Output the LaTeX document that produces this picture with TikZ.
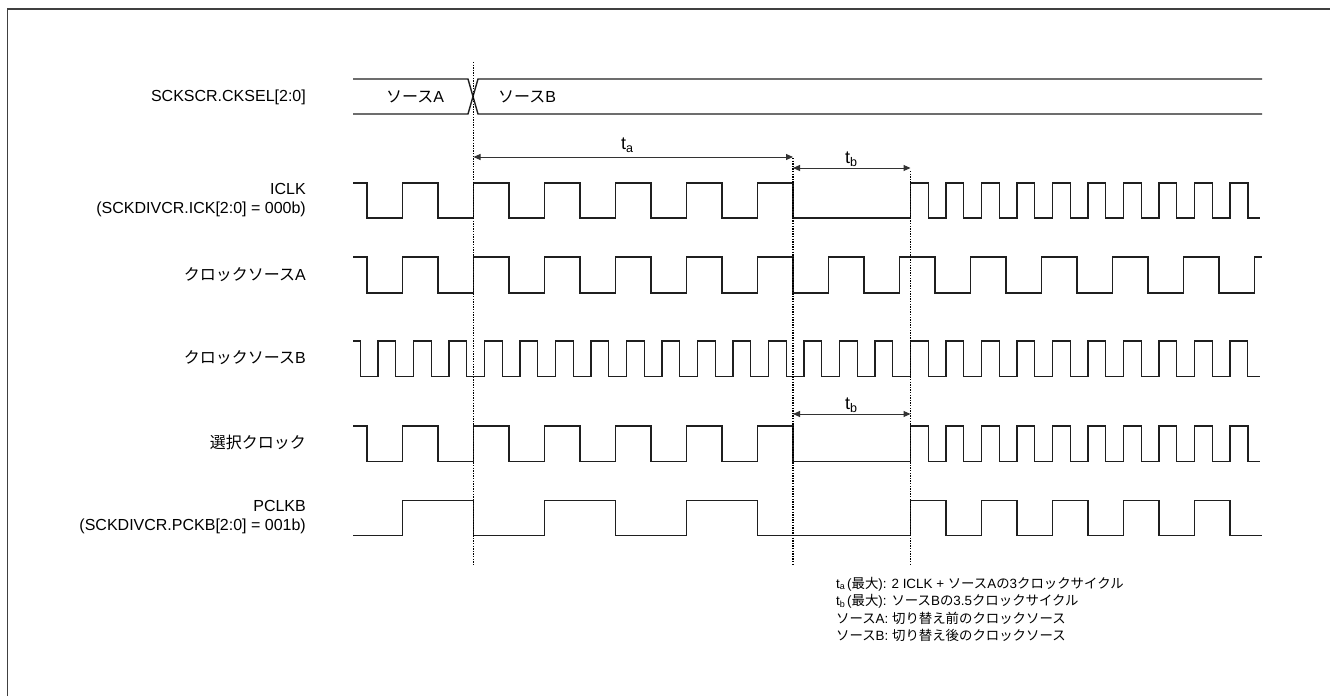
\documentclass[tikz,border=0pt]{standalone}
\usepackage{fontspec}
\setmainfont{Liberation Sans}
\newfontfamily\jp{Noto Sans CJK JP}
\usetikzlibrary{arrows.meta}
\newcommand\J[1]{{\jp #1}}
\newcommand\tsub[1]{t\raisebox{-0.3ex}{\fontsize{12.5}{12.5}\selectfont #1}}
\newcommand\nsub[1]{t\raisebox{-0.25ex}{\fontsize{9}{9}\selectfont #1}}
\begin{document}
\begin{tikzpicture}[x=1pt,y=-1pt,
  wave/.style={line width=1.4pt,draw=black!88,line join=miter},
  dotline/.style={line width=1.2pt,draw=black,dash pattern=on 1.3pt off 1.3pt},
  dim/.style={line width=1pt,draw=black!80,{Triangle[length=7pt,width=6pt]}-{Triangle[length=7pt,width=6pt]}},
  lbl/.style={anchor=east,align=right,inner sep=0pt,font=\fontsize{16}{18.5}\selectfont},
  bustxt/.style={inner sep=0pt,font=\fontsize{16}{18}\selectfont},
  tlbl/.style={inner sep=0pt,font=\fontsize{18}{20}\selectfont},
  note/.style={anchor=west,align=left,inner sep=0pt,font=\fontsize{13.4}{17.6}\selectfont}]
\useasboundingbox (0,0) rectangle (1330,696);
\fill[white] (0,0) rectangle (1330,696);
\draw[line width=1.5pt,black!75] (7.5,696) -- (7.5,9) -- (1330,9);

% signal labels
\node[lbl] (lsel) at (306,97) {SCKSCR.CKSEL[2:0]};
\node[lbl] (licl) at (306,200) {ICLK\\(SCKDIVCR.ICK[2:0] = 000b)};
\node[lbl] (lca) at (306,275) {\J{クロックソース}A};
\node[lbl] (lcb) at (306,358) {\J{クロックソース}B};
\node[lbl] (lsc) at (306,442) {\J{選択クロック}};
\node[lbl] (lpc) at (306,517) {PCLKB\\(SCKDIVCR.PCKB[2:0] = 001b)};

% bus
\draw[wave] (353,79) -- (468,79) -- (478,114) -- (1262,114);
\draw[wave] (353,114) -- (468,114) -- (478,79) -- (1262,79);
\node[bustxt] (sa) at (415,97) {\J{ソース}A};
\node[bustxt] (sb) at (527,97) {\J{ソース}B};

% ICLK
\draw[wave] (353,183) -- (367,183)
  foreach \k in {0,...,5} { -- ({367+71*\k},218) -- ({402.5+71*\k},218) -- ({402.5+71*\k},183) -- ({438+71*\k},183) }
  -- (793,218) -- (910.5,218) -- (910.5,183)
  foreach \j in {0,...,8} { -- ({928.25+35.5*\j},183) -- ({928.25+35.5*\j},218) -- ({946+35.5*\j},218) -- ({946+35.5*\j},183) }
  -- (1248,183) -- (1248,218) -- (1260,218);

% clock source A
\draw[wave] (353,257) -- (367,257)
  foreach \k in {0,...,11} { -- ({367+71*\k},293) -- ({402.5+71*\k},293) -- ({402.5+71*\k},257) -- ({438+71*\k},257) }
  -- (1219,293) -- (1254.5,293) -- (1254.5,257) -- (1262,257);

% clock source B
\draw[wave] (353,341) -- (360.25,341)
  foreach \j in {0,...,24} { -- ({360.25+35.5*\j},376.5) -- ({378+35.5*\j},376.5) -- ({378+35.5*\j},341) -- ({395.75+35.5*\j},341) }
  -- (1247.75,376.5) -- (1260,376.5);

% selected clock
\draw[wave] (353,426) -- (367,426)
  foreach \k in {0,...,5} { -- ({367+71*\k},461.5) -- ({402.5+71*\k},461.5) -- ({402.5+71*\k},426) -- ({438+71*\k},426) }
  -- (793,461.5) -- (910.5,461.5) -- (910.5,426)
  foreach \j in {0,...,8} { -- ({928.25+35.5*\j},426) -- ({928.25+35.5*\j},461.5) -- ({946+35.5*\j},461.5) -- ({946+35.5*\j},426) }
  -- (1248,426) -- (1248,461.5) -- (1260,461.5);

% PCLKB
\draw[wave] (353,535.5) -- (402.5,535.5) -- (402.5,500.5) -- (473.5,500.5) -- (473.5,535.5)
  -- (544.5,535.5) -- (544.5,500.5) -- (615.5,500.5) -- (615.5,535.5)
  -- (686.5,535.5) -- (686.5,500.5) -- (757.5,500.5) -- (757.5,535.5)
  -- (910.5,535.5)
  foreach \k in {0,...,3} { -- ({910.5+71*\k},500.5) -- ({946+71*\k},500.5) -- ({946+71*\k},535.5) -- ({981.5+71*\k},535.5) }
  -- (1194.5,500.5) -- (1230,500.5) -- (1230,535.5) -- (1262,535.5);

% dotted guide lines
\coordinate (d1t) at (473.5,62);  \coordinate (d1b) at (473.5,565);
\coordinate (d2t) at (793,158);   \coordinate (d2b) at (793,565);
\coordinate (d3t) at (910.5,171); \coordinate (d3b) at (910.5,565);
\draw[dotline] (d1t) -- (d1b);
\draw[dotline] (d2t) -- (d2b);
\draw[dotline] (d3t) -- (d3b);

% dimension arrows
\coordinate (taL) at (473.5,157); \coordinate (taR) at (793,157);
\coordinate (tbL) at (793,168);   \coordinate (tbR) at (910.5,168);
\coordinate (tcL) at (793,414);   \coordinate (tcR) at (910.5,414);
\draw[dim] (taL) -- (taR);
\draw[dim] (tbL) -- (tbR);
\draw[dim] (tcL) -- (tcR);
\node[tlbl] (ta) at (627,145) {\tsub{a}};
\node[tlbl] (tb) at (851,159) {\tsub{b}};
\node[tlbl] (tc) at (851,405) {\tsub{b}};

% notes
\node[note] (notes) at (836,609.5) {\nsub{a}\,(\J{最大}): 2 ICLK + \J{ソース}A\J{の}3\J{クロックサイクル}\\
\nsub{b}\,(\J{最大}): \J{ソース}B\J{の}3.5\J{クロックサイクル}\\
\J{ソース}A: \J{切り替え前のクロックソース}\\
\J{ソース}B: \J{切り替え後のクロックソース}};
\end{tikzpicture}
\end{document}
